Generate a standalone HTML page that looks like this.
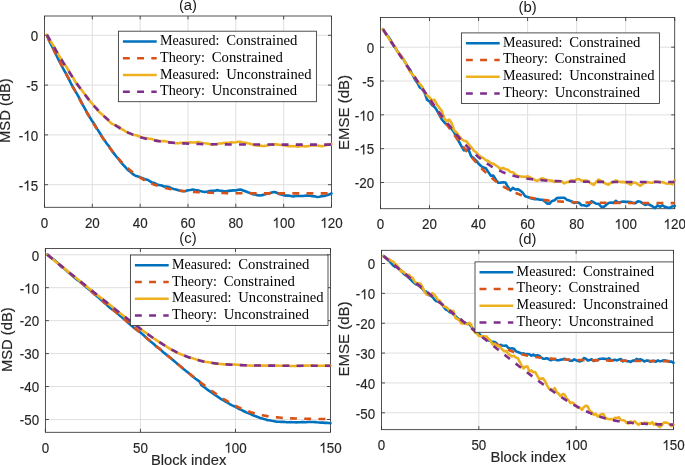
<!DOCTYPE html>
<html><head><meta charset="utf-8"><style>html,body{margin:0;padding:0;background:#fff;overflow:hidden}svg{display:block;will-change:transform}</style></head>
<body><svg width="685" height="465" viewBox="0 0 685 465">
<rect width="685" height="465" fill="#fff"/>
<g stroke="#DFDFDF" stroke-width="1"><line x1="92.33" y1="16.0" x2="92.33" y2="207.3"/><line x1="140.17" y1="16.0" x2="140.17" y2="207.3"/><line x1="188.00" y1="16.0" x2="188.00" y2="207.3"/><line x1="235.83" y1="16.0" x2="235.83" y2="207.3"/><line x1="283.67" y1="16.0" x2="283.67" y2="207.3"/><line x1="44.5" y1="35.30" x2="331.5" y2="35.30"/><line x1="44.5" y1="85.10" x2="331.5" y2="85.10"/><line x1="44.5" y1="134.90" x2="331.5" y2="134.90"/><line x1="44.5" y1="184.70" x2="331.5" y2="184.70"/></g>
<path d="M44.50,207.3v-3.5M44.50,16.0v3.5M92.33,207.3v-3.5M92.33,16.0v3.5M140.17,207.3v-3.5M140.17,16.0v3.5M188.00,207.3v-3.5M188.00,16.0v3.5M235.83,207.3v-3.5M235.83,16.0v3.5M283.67,207.3v-3.5M283.67,16.0v3.5M331.50,207.3v-3.5M331.50,16.0v3.5M44.5,35.30h3.5M331.5,35.30h-3.5M44.5,85.10h3.5M331.5,85.10h-3.5M44.5,134.90h3.5M331.5,134.90h-3.5M44.5,184.70h3.5M331.5,184.70h-3.5" stroke="#333" stroke-width="0.85" fill="none"/>
<rect x="44.5" y="16.0" width="287.00" height="191.30" fill="none" stroke="#333" stroke-width="0.85"/>
<clipPath id="cpa"><rect x="43.0" y="14.5" width="290.0" height="194.3"/></clipPath>
<g clip-path="url(#cpa)" fill="none" stroke-width="2.6" stroke-linejoin="round">
<path d="M46.89,35.26 L49.28,41.10 L51.67,45.78 L54.07,50.45 L56.46,55.57 L58.85,60.44 L61.24,65.00 L63.63,69.50 L66.03,73.54 L68.42,78.18 L70.81,83.11 L73.20,87.51 L75.59,91.67 L77.98,95.63 L80.38,100.11 L82.77,104.85 L85.16,109.14 L87.55,113.76 L89.94,117.52 L92.33,121.36 L94.72,124.84 L97.12,128.89 L99.51,132.45 L101.90,136.47 L104.29,139.90 L106.68,143.53 L109.08,146.44 L111.47,150.13 L113.86,153.38 L116.25,156.51 L118.64,159.23 L121.03,162.37 L123.43,165.05 L125.82,167.64 L128.21,170.30 L130.60,172.03 L132.99,174.19 L135.38,175.77 L137.78,176.38 L140.17,177.27 L142.56,178.32 L144.95,179.21 L147.34,179.73 L149.73,181.04 L152.12,182.55 L154.52,183.08 L156.91,184.42 L159.30,185.02 L161.69,185.47 L164.08,186.48 L166.47,186.61 L168.87,187.02 L171.26,188.13 L173.65,188.94 L176.04,189.44 L178.43,190.28 L180.82,190.84 L183.22,191.19 L185.61,191.03 L188.00,190.25 L190.39,190.07 L192.78,189.54 L195.18,190.09 L197.57,190.31 L199.96,190.92 L202.35,191.46 L204.74,191.91 L207.13,191.74 L209.52,191.00 L211.92,190.87 L214.31,190.92 L216.70,190.11 L219.09,190.58 L221.48,190.84 L223.88,191.32 L226.27,191.30 L228.66,190.84 L231.05,190.59 L233.44,190.36 L235.83,190.48 L238.23,189.82 L240.62,189.59 L243.01,190.45 L245.40,191.31 L247.79,192.26 L250.18,193.03 L252.57,194.10 L254.97,194.41 L257.36,195.16 L259.75,195.46 L262.14,195.12 L264.53,194.60 L266.93,193.71 L269.32,193.34 L271.71,192.44 L274.10,191.97 L276.49,192.59 L278.88,193.95 L281.27,194.54 L283.67,195.12 L286.06,195.61 L288.45,195.62 L290.84,195.97 L293.23,196.53 L295.62,196.01 L298.02,195.96 L300.41,196.00 L302.80,195.94 L305.19,195.67 L307.58,195.53 L309.98,195.82 L312.37,196.22 L314.76,196.33 L317.15,196.97 L319.54,196.79 L321.93,196.12 L324.32,195.95 L326.72,195.22 L329.11,194.49 L331.50,193.44" stroke="#0072BD" stroke-linecap="round"/>
<path d="M46.89,35.26 L49.28,41.08 L51.67,45.84 L54.07,50.57 L56.46,55.29 L58.85,59.99 L61.24,64.66 L63.63,69.30 L66.03,73.91 L68.42,78.49 L70.81,83.04 L73.20,87.54 L75.59,92.00 L77.98,96.41 L80.38,100.77 L82.77,105.07 L85.16,109.31 L87.55,113.48 L89.94,117.58 L92.33,121.59 L94.72,125.53 L97.12,129.36 L99.51,133.10 L101.90,136.74 L104.29,140.27 L106.68,143.68 L109.08,146.97 L111.47,150.14 L113.86,153.18 L116.25,156.08 L118.64,158.85 L121.03,161.48 L123.43,163.97 L125.82,166.33 L128.21,168.54 L130.60,170.62 L132.99,172.56 L135.38,174.37 L137.78,176.06 L140.17,177.62 L142.56,179.06 L144.95,180.39 L147.34,181.61 L149.73,182.73 L152.12,183.76 L154.52,184.70 L156.91,185.55 L159.30,186.33 L161.69,187.04 L164.08,187.68 L166.47,188.26 L168.87,188.78 L171.26,189.25 L173.65,189.68 L176.04,190.06 L178.43,190.41 L180.82,190.72 L183.22,191.00 L185.61,191.25 L188.00,191.48 L190.39,191.68 L192.78,191.86 L195.18,192.03 L197.57,192.17 L199.96,192.30 L202.35,192.42 L204.74,192.53 L207.13,192.62 L209.52,192.70 L211.92,192.78 L214.31,192.85 L216.70,192.91 L219.09,192.96 L221.48,193.01 L223.88,193.05 L226.27,193.09 L228.66,193.12 L231.05,193.15 L233.44,193.18 L235.83,193.20 L238.23,193.23 L240.62,193.25 L243.01,193.26 L245.40,193.28 L247.79,193.29 L250.18,193.30 L252.57,193.32 L254.97,193.33 L257.36,193.33 L259.75,193.34 L262.14,193.35 L264.53,193.36 L266.93,193.36 L269.32,193.37 L271.71,193.37 L274.10,193.37 L276.49,193.38 L278.88,193.38 L281.27,193.38 L283.67,193.39 L286.06,193.39 L288.45,193.39 L290.84,193.39 L293.23,193.39 L295.62,193.40 L298.02,193.40 L300.41,193.40 L302.80,193.40 L305.19,193.40 L307.58,193.40 L309.98,193.40 L312.37,193.40 L314.76,193.40 L317.15,193.40 L319.54,193.40 L321.93,193.40 L324.32,193.40 L326.72,193.40 L329.11,193.40 L331.50,193.41" stroke="#D95319" stroke-dasharray="6.9 7.3" stroke-linecap="butt"/>
<path d="M46.89,34.74 L49.28,38.84 L51.67,42.80 L54.07,46.84 L56.46,50.95 L58.85,55.52 L61.24,59.30 L63.63,63.33 L66.03,66.26 L68.42,70.25 L70.81,74.34 L73.20,77.98 L75.59,82.30 L77.98,85.73 L80.38,88.39 L82.77,91.55 L85.16,94.70 L87.55,97.45 L89.94,101.01 L92.33,103.78 L94.72,106.95 L97.12,109.69 L99.51,112.25 L101.90,114.21 L104.29,116.48 L106.68,118.73 L109.08,121.18 L111.47,123.53 L113.86,124.62 L116.25,125.85 L118.64,126.63 L121.03,128.58 L123.43,130.01 L125.82,131.53 L128.21,132.77 L130.60,133.82 L132.99,134.67 L135.38,135.12 L137.78,135.81 L140.17,136.70 L142.56,137.74 L144.95,138.08 L147.34,138.41 L149.73,138.72 L152.12,139.08 L154.52,140.11 L156.91,140.64 L159.30,141.03 L161.69,141.08 L164.08,141.09 L166.47,141.59 L168.87,142.21 L171.26,142.49 L173.65,142.98 L176.04,143.21 L178.43,143.28 L180.82,142.89 L183.22,142.90 L185.61,142.65 L188.00,142.88 L190.39,142.39 L192.78,142.53 L195.18,142.57 L197.57,142.08 L199.96,142.40 L202.35,142.95 L204.74,143.29 L207.13,143.45 L209.52,144.12 L211.92,144.81 L214.31,144.27 L216.70,144.01 L219.09,143.56 L221.48,143.57 L223.88,142.96 L226.27,142.72 L228.66,142.97 L231.05,142.26 L233.44,142.43 L235.83,142.27 L238.23,141.74 L240.62,141.77 L243.01,142.66 L245.40,142.81 L247.79,143.33 L250.18,143.76 L252.57,144.60 L254.97,145.30 L257.36,145.58 L259.75,145.57 L262.14,145.98 L264.53,145.89 L266.93,145.58 L269.32,144.99 L271.71,144.60 L274.10,144.17 L276.49,144.35 L278.88,144.71 L281.27,145.06 L283.67,145.28 L286.06,145.64 L288.45,146.16 L290.84,146.12 L293.23,146.24 L295.62,146.11 L298.02,146.78 L300.41,146.12 L302.80,146.06 L305.19,146.37 L307.58,146.16 L309.98,145.81 L312.37,145.31 L314.76,145.55 L317.15,145.53 L319.54,145.85 L321.93,146.23 L324.32,145.84 L326.72,145.02 L329.11,144.33 L331.50,144.09" stroke="#EDB120" stroke-linecap="round"/>
<path d="M46.89,34.74 L49.28,38.94 L51.67,43.10 L54.07,47.22 L56.46,51.29 L58.85,55.32 L61.24,59.28 L63.63,63.20 L66.03,67.04 L68.42,70.83 L70.81,74.54 L73.20,78.17 L75.59,81.72 L77.98,85.18 L80.38,88.55 L82.77,91.83 L85.16,95.01 L87.55,98.08 L89.94,101.04 L92.33,103.89 L94.72,106.62 L97.12,109.24 L99.51,111.73 L101.90,114.11 L104.29,116.36 L106.68,118.50 L109.08,120.51 L111.47,122.41 L113.86,124.19 L116.25,125.85 L118.64,127.41 L121.03,128.86 L123.43,130.20 L125.82,131.45 L128.21,132.60 L130.60,133.67 L132.99,134.65 L135.38,135.55 L137.78,136.38 L140.17,137.14 L142.56,137.83 L144.95,138.46 L147.34,139.04 L149.73,139.57 L152.12,140.05 L154.52,140.48 L156.91,140.88 L159.30,141.24 L161.69,141.56 L164.08,141.86 L166.47,142.13 L168.87,142.37 L171.26,142.59 L173.65,142.79 L176.04,142.96 L178.43,143.12 L180.82,143.27 L183.22,143.40 L185.61,143.52 L188.00,143.63 L190.39,143.72 L192.78,143.81 L195.18,143.89 L197.57,143.96 L199.96,144.02 L202.35,144.08 L204.74,144.13 L207.13,144.18 L209.52,144.22 L211.92,144.26 L214.31,144.29 L216.70,144.32 L219.09,144.35 L221.48,144.37 L223.88,144.40 L226.27,144.42 L228.66,144.44 L231.05,144.45 L233.44,144.47 L235.83,144.48 L238.23,144.49 L240.62,144.50 L243.01,144.51 L245.40,144.52 L247.79,144.53 L250.18,144.53 L252.57,144.54 L254.97,144.55 L257.36,144.55 L259.75,144.56 L262.14,144.56 L264.53,144.56 L266.93,144.57 L269.32,144.57 L271.71,144.57 L274.10,144.58 L276.49,144.58 L278.88,144.58 L281.27,144.58 L283.67,144.58 L286.06,144.58 L288.45,144.59 L290.84,144.59 L293.23,144.59 L295.62,144.59 L298.02,144.59 L300.41,144.59 L302.80,144.59 L305.19,144.59 L307.58,144.59 L309.98,144.59 L312.37,144.59 L314.76,144.59 L317.15,144.59 L319.54,144.59 L321.93,144.59 L324.32,144.59 L326.72,144.59 L329.11,144.60 L331.50,144.60" stroke="#7E2F8E" stroke-dasharray="6.9 7.3" stroke-linecap="butt"/>
</g>
<g font-family="Liberation Sans" font-size="14.0" fill="#262626" stroke="#262626" stroke-width="0.15"><text x="40.77" y="227.70" textLength="7.45" lengthAdjust="spacingAndGlyphs">0</text><text x="84.88" y="227.70" textLength="7.45" lengthAdjust="spacingAndGlyphs">2</text><text x="92.33" y="227.70" textLength="7.45" lengthAdjust="spacingAndGlyphs">0</text><text x="132.72" y="227.70" textLength="7.45" lengthAdjust="spacingAndGlyphs">4</text><text x="140.17" y="227.70" textLength="7.45" lengthAdjust="spacingAndGlyphs">0</text><text x="180.55" y="227.70" textLength="7.45" lengthAdjust="spacingAndGlyphs">6</text><text x="188.00" y="227.70" textLength="7.45" lengthAdjust="spacingAndGlyphs">0</text><text x="228.38" y="227.70" textLength="7.45" lengthAdjust="spacingAndGlyphs">8</text><text x="235.83" y="227.70" textLength="7.45" lengthAdjust="spacingAndGlyphs">0</text><polygon points="277.49,227.70 276.32,227.70 276.32,219.86 275.17,220.63 273.90,221.23 273.90,220.03 275.37,219.13 276.51,217.68 277.49,217.68"/><text x="279.94" y="227.70" textLength="7.45" lengthAdjust="spacingAndGlyphs">0</text><text x="287.39" y="227.70" textLength="7.45" lengthAdjust="spacingAndGlyphs">0</text><polygon points="325.32,227.70 324.16,227.70 324.16,219.86 323.00,220.63 321.73,221.23 321.73,220.03 323.21,219.13 324.34,217.68 325.32,217.68"/><text x="327.77" y="227.70" textLength="7.45" lengthAdjust="spacingAndGlyphs">2</text><text x="335.23" y="227.70" textLength="7.45" lengthAdjust="spacingAndGlyphs">0</text><text x="30.75" y="41.10" textLength="7.45" lengthAdjust="spacingAndGlyphs">0</text><text x="26.29" y="90.90" textLength="4.46" lengthAdjust="spacingAndGlyphs">-</text><text x="30.75" y="90.90" textLength="7.45" lengthAdjust="spacingAndGlyphs">5</text><text x="18.84" y="140.70" textLength="4.46" lengthAdjust="spacingAndGlyphs">-</text><polygon points="28.30,140.70 27.13,140.70 27.13,132.86 25.98,133.63 24.71,134.23 24.71,133.03 26.18,132.13 27.32,130.68 28.30,130.68"/><text x="30.75" y="140.70" textLength="7.45" lengthAdjust="spacingAndGlyphs">0</text><text x="18.84" y="190.50" textLength="4.46" lengthAdjust="spacingAndGlyphs">-</text><polygon points="28.30,190.50 27.13,190.50 27.13,182.66 25.98,183.43 24.71,184.03 24.71,182.83 26.18,181.93 27.32,180.48 28.30,180.48"/><text x="30.75" y="190.50" textLength="7.45" lengthAdjust="spacingAndGlyphs">5</text></g>
<text x="178.93" y="10.10" textLength="18.13" lengthAdjust="spacingAndGlyphs" font-family="Liberation Sans" font-size="14.0" fill="#1a1a1a">(a)</text>
<text transform="translate(10.45,110.60) rotate(-90)" x="-32.35" y="0" textLength="64.70" lengthAdjust="spacingAndGlyphs" font-family="Liberation Sans" font-size="15.0" fill="#262626" stroke="#262626" stroke-width="0.15">MSD (dB)</text>
<rect x="118.4" y="31.2" width="198.00" height="70.50" fill="#fff" stroke="#333" stroke-width="0.85"/>
<line x1="122.90" y1="41.50" x2="156.70" y2="41.50" stroke="#0072BD" stroke-width="2.6"/>
<text y="45.00" font-family="Liberation Serif" font-size="13.7" fill="#000"><tspan x="160.00" textLength="59.5" lengthAdjust="spacingAndGlyphs">Measured:</tspan></text>
<text y="45.00" font-family="Liberation Serif" font-size="13.7" fill="#000"><tspan x="226.30" textLength="71.2" lengthAdjust="spacingAndGlyphs">Constrained</tspan></text>
<line x1="122.90" y1="58.25" x2="156.70" y2="58.25" stroke="#D95319" stroke-width="2.6" stroke-dasharray="6.9 7.3"/>
<text y="61.75" font-family="Liberation Serif" font-size="13.7" fill="#000"><tspan x="160.00" textLength="45.0" lengthAdjust="spacingAndGlyphs">Theory:</tspan></text>
<text y="61.75" font-family="Liberation Serif" font-size="13.7" fill="#000"><tspan x="211.80" textLength="71.2" lengthAdjust="spacingAndGlyphs">Constrained</tspan></text>
<line x1="122.90" y1="75.00" x2="156.70" y2="75.00" stroke="#EDB120" stroke-width="2.6"/>
<text y="78.50" font-family="Liberation Serif" font-size="13.7" fill="#000"><tspan x="160.00" textLength="59.5" lengthAdjust="spacingAndGlyphs">Measured:</tspan></text>
<text y="78.50" font-family="Liberation Serif" font-size="13.7" fill="#000"><tspan x="226.30" textLength="85.2" lengthAdjust="spacingAndGlyphs">Unconstrained</tspan></text>
<line x1="122.90" y1="91.75" x2="156.70" y2="91.75" stroke="#7E2F8E" stroke-width="2.6" stroke-dasharray="6.9 7.3"/>
<text y="95.25" font-family="Liberation Serif" font-size="13.7" fill="#000"><tspan x="160.00" textLength="45.0" lengthAdjust="spacingAndGlyphs">Theory:</tspan></text>
<text y="95.25" font-family="Liberation Serif" font-size="13.7" fill="#000"><tspan x="211.80" textLength="85.2" lengthAdjust="spacingAndGlyphs">Unconstrained</tspan></text>
<g stroke="#DFDFDF" stroke-width="1"><line x1="429.53" y1="17.5" x2="429.53" y2="208.7"/><line x1="478.57" y1="17.5" x2="478.57" y2="208.7"/><line x1="527.60" y1="17.5" x2="527.60" y2="208.7"/><line x1="576.63" y1="17.5" x2="576.63" y2="208.7"/><line x1="625.67" y1="17.5" x2="625.67" y2="208.7"/><line x1="380.5" y1="47.20" x2="674.7" y2="47.20"/><line x1="380.5" y1="81.03" x2="674.7" y2="81.03"/><line x1="380.5" y1="114.85" x2="674.7" y2="114.85"/><line x1="380.5" y1="148.68" x2="674.7" y2="148.68"/><line x1="380.5" y1="182.50" x2="674.7" y2="182.50"/></g>
<path d="M380.50,208.7v-3.5M380.50,17.5v3.5M429.53,208.7v-3.5M429.53,17.5v3.5M478.57,208.7v-3.5M478.57,17.5v3.5M527.60,208.7v-3.5M527.60,17.5v3.5M576.63,208.7v-3.5M576.63,17.5v3.5M625.67,208.7v-3.5M625.67,17.5v3.5M674.70,208.7v-3.5M674.70,17.5v3.5M380.5,47.20h3.5M674.7,47.20h-3.5M380.5,81.03h3.5M674.7,81.03h-3.5M380.5,114.85h3.5M674.7,114.85h-3.5M380.5,148.68h3.5M674.7,148.68h-3.5M380.5,182.50h3.5M674.7,182.50h-3.5" stroke="#333" stroke-width="0.85" fill="none"/>
<rect x="380.5" y="17.5" width="294.20" height="191.20" fill="none" stroke="#333" stroke-width="0.85"/>
<clipPath id="cpb"><rect x="379.0" y="16.0" width="297.20000000000005" height="194.2"/></clipPath>
<g clip-path="url(#cpb)" fill="none" stroke-width="2.6" stroke-linejoin="round">
<path d="M382.95,29.11 L385.40,32.63 L387.86,36.27 L390.31,39.47 L392.76,44.32 L395.21,47.79 L397.66,51.68 L400.11,54.73 L402.56,58.03 L405.02,61.87 L407.47,66.30 L409.92,69.67 L412.37,74.51 L414.82,79.25 L417.27,82.73 L419.73,87.38 L422.18,89.01 L424.63,92.83 L427.08,99.80 L429.53,101.42 L431.99,105.02 L434.44,106.84 L436.89,110.30 L439.34,114.90 L441.79,119.47 L444.24,122.22 L446.69,124.70 L449.15,125.92 L451.60,129.00 L454.05,132.30 L456.50,137.65 L458.95,141.55 L461.41,146.22 L463.86,150.43 L466.31,149.71 L468.76,150.18 L471.21,156.42 L473.66,158.18 L476.12,160.60 L478.57,163.60 L481.02,166.01 L483.47,167.62 L485.92,168.35 L488.37,172.12 L490.83,175.76 L493.28,175.44 L495.73,179.52 L498.18,182.69 L500.63,182.60 L503.08,182.19 L505.54,182.51 L507.99,187.02 L510.44,190.41 L512.89,187.96 L515.34,189.50 L517.79,189.20 L520.25,190.55 L522.70,192.63 L525.15,196.31 L527.60,196.93 L530.05,198.09 L532.50,198.62 L534.96,199.25 L537.41,198.92 L539.86,199.74 L542.31,199.71 L544.76,201.36 L547.21,203.59 L549.66,203.67 L552.12,200.98 L554.57,200.32 L557.02,198.02 L559.47,197.83 L561.92,197.82 L564.38,197.81 L566.83,199.68 L569.28,200.56 L571.73,201.41 L574.18,202.90 L576.63,202.52 L579.09,202.74 L581.54,205.31 L583.99,205.30 L586.44,206.14 L588.89,204.97 L591.34,201.21 L593.80,202.28 L596.25,203.75 L598.70,203.89 L601.15,206.63 L603.60,207.00 L606.05,204.95 L608.51,202.96 L610.96,202.58 L613.41,202.91 L615.86,200.79 L618.31,202.69 L620.76,201.94 L623.22,201.45 L625.67,201.89 L628.12,201.82 L630.57,202.04 L633.02,202.94 L635.47,203.08 L637.93,201.33 L640.38,201.84 L642.83,203.31 L645.28,204.93 L647.73,203.95 L650.18,205.05 L652.63,206.48 L655.09,208.10 L657.54,205.29 L659.99,206.75 L662.44,205.34 L664.89,206.76 L667.35,207.60 L669.80,207.94 L672.25,206.46 L674.70,205.73" stroke="#0072BD" stroke-linecap="round"/>
<path d="M382.95,29.11 L385.40,32.85 L387.86,36.59 L390.31,40.32 L392.76,44.06 L395.21,47.79 L397.66,51.52 L400.11,55.25 L402.56,58.97 L405.02,62.69 L407.47,66.40 L409.92,70.11 L412.37,73.81 L414.82,77.51 L417.27,81.20 L419.73,84.88 L422.18,88.55 L424.63,92.21 L427.08,95.86 L429.53,99.49 L431.99,103.11 L434.44,106.72 L436.89,110.30 L439.34,113.87 L441.79,117.41 L444.24,120.92 L446.69,124.40 L449.15,127.86 L451.60,131.27 L454.05,134.65 L456.50,137.98 L458.95,141.26 L461.41,144.49 L463.86,147.66 L466.31,150.77 L468.76,153.81 L471.21,156.77 L473.66,159.66 L476.12,162.46 L478.57,165.16 L481.02,167.77 L483.47,170.28 L485.92,172.69 L488.37,174.99 L490.83,177.17 L493.28,179.24 L495.73,181.19 L498.18,183.03 L500.63,184.75 L503.08,186.36 L505.54,187.86 L507.99,189.24 L510.44,190.52 L512.89,191.70 L515.34,192.78 L517.79,193.77 L520.25,194.67 L522.70,195.50 L525.15,196.24 L527.60,196.92 L530.05,197.53 L532.50,198.08 L534.96,198.58 L537.41,199.03 L539.86,199.43 L542.31,199.79 L544.76,200.12 L547.21,200.41 L549.66,200.67 L552.12,200.91 L554.57,201.12 L557.02,201.31 L559.47,201.48 L561.92,201.63 L564.38,201.77 L566.83,201.89 L569.28,202.00 L571.73,202.10 L574.18,202.19 L576.63,202.27 L579.09,202.34 L581.54,202.41 L583.99,202.47 L586.44,202.52 L588.89,202.57 L591.34,202.61 L593.80,202.65 L596.25,202.69 L598.70,202.72 L601.15,202.75 L603.60,202.78 L606.05,202.80 L608.51,202.83 L610.96,202.85 L613.41,202.87 L615.86,202.89 L618.31,202.90 L620.76,202.92 L623.22,202.93 L625.67,202.95 L628.12,202.96 L630.57,202.97 L633.02,202.98 L635.47,202.99 L637.93,203.00 L640.38,203.01 L642.83,203.02 L645.28,203.02 L647.73,203.03 L650.18,203.04 L652.63,203.04 L655.09,203.05 L657.54,203.06 L659.99,203.06 L662.44,203.07 L664.89,203.07 L667.35,203.08 L669.80,203.08 L672.25,203.08 L674.70,203.09" stroke="#D95319" stroke-dasharray="6.9 7.3" stroke-linecap="butt"/>
<path d="M382.95,29.41 L385.40,33.32 L387.86,36.93 L390.31,40.89 L392.76,44.08 L395.21,47.27 L397.66,51.98 L400.11,54.33 L402.56,57.72 L405.02,61.95 L407.47,66.53 L409.92,71.80 L412.37,74.34 L414.82,77.02 L417.27,80.93 L419.73,83.83 L422.18,86.69 L424.63,92.25 L427.08,95.48 L429.53,97.44 L431.99,100.30 L434.44,99.89 L436.89,104.48 L439.34,107.74 L441.79,110.91 L444.24,118.48 L446.69,121.00 L449.15,119.53 L451.60,122.96 L454.05,130.23 L456.50,132.48 L458.95,136.21 L461.41,138.93 L463.86,140.76 L466.31,141.14 L468.76,144.45 L471.21,147.08 L473.66,150.50 L476.12,152.22 L478.57,155.11 L481.02,156.97 L483.47,158.15 L485.92,160.17 L488.37,161.06 L490.83,163.22 L493.28,163.65 L495.73,165.28 L498.18,167.03 L500.63,169.22 L503.08,167.91 L505.54,169.22 L507.99,169.85 L510.44,171.95 L512.89,172.27 L515.34,174.24 L517.79,176.01 L520.25,176.35 L522.70,176.59 L525.15,177.08 L527.60,176.27 L530.05,177.34 L532.50,178.61 L534.96,180.07 L537.41,181.05 L539.86,179.25 L542.31,178.23 L544.76,179.24 L547.21,180.06 L549.66,180.45 L552.12,180.65 L554.57,182.01 L557.02,181.36 L559.47,181.10 L561.92,181.61 L564.38,183.38 L566.83,182.05 L569.28,181.87 L571.73,180.19 L574.18,180.75 L576.63,179.31 L579.09,179.15 L581.54,180.73 L583.99,180.45 L586.44,180.47 L588.89,182.00 L591.34,183.63 L593.80,184.88 L596.25,181.67 L598.70,179.53 L601.15,181.10 L603.60,182.42 L606.05,183.87 L608.51,184.73 L610.96,182.76 L613.41,182.18 L615.86,180.31 L618.31,181.44 L620.76,182.11 L623.22,181.88 L625.67,182.39 L628.12,183.16 L630.57,184.74 L633.02,182.36 L635.47,182.67 L637.93,184.32 L640.38,185.78 L642.83,183.71 L645.28,182.66 L647.73,182.11 L650.18,182.78 L652.63,182.75 L655.09,181.47 L657.54,181.60 L659.99,182.58 L662.44,181.97 L664.89,182.95 L667.35,183.86 L669.80,183.24 L672.25,184.30 L674.70,180.30" stroke="#EDB120" stroke-linecap="round"/>
<path d="M382.95,29.41 L385.40,33.14 L387.86,36.87 L390.31,40.59 L392.76,44.31 L395.21,48.02 L397.66,51.72 L400.11,55.42 L402.56,59.10 L405.02,62.78 L407.47,66.45 L409.92,70.10 L412.37,73.74 L414.82,77.37 L417.27,80.98 L419.73,84.57 L422.18,88.14 L424.63,91.69 L427.08,95.22 L429.53,98.72 L431.99,102.19 L434.44,105.63 L436.89,109.03 L439.34,112.40 L441.79,115.72 L444.24,118.99 L446.69,122.21 L449.15,125.37 L451.60,128.48 L454.05,131.51 L456.50,134.48 L458.95,137.37 L461.41,140.18 L463.86,142.90 L466.31,145.53 L468.76,148.06 L471.21,150.49 L473.66,152.82 L476.12,155.04 L478.57,157.15 L481.02,159.15 L483.47,161.04 L485.92,162.81 L488.37,164.47 L490.83,166.02 L493.28,167.46 L495.73,168.80 L498.18,170.04 L500.63,171.17 L503.08,172.22 L505.54,173.17 L507.99,174.05 L510.44,174.84 L512.89,175.57 L515.34,176.22 L517.79,176.81 L520.25,177.35 L522.70,177.83 L525.15,178.27 L527.60,178.66 L530.05,179.01 L532.50,179.33 L534.96,179.61 L537.41,179.87 L539.86,180.09 L542.31,180.30 L544.76,180.48 L547.21,180.64 L549.66,180.79 L552.12,180.92 L554.57,181.04 L557.02,181.14 L559.47,181.23 L561.92,181.32 L564.38,181.39 L566.83,181.46 L569.28,181.52 L571.73,181.57 L574.18,181.62 L576.63,181.66 L579.09,181.70 L581.54,181.73 L583.99,181.76 L586.44,181.79 L588.89,181.82 L591.34,181.84 L593.80,181.86 L596.25,181.88 L598.70,181.89 L601.15,181.91 L603.60,181.92 L606.05,181.93 L608.51,181.94 L610.96,181.95 L613.41,181.96 L615.86,181.96 L618.31,181.97 L620.76,181.98 L623.22,181.98 L625.67,181.99 L628.12,181.99 L630.57,182.00 L633.02,182.00 L635.47,182.00 L637.93,182.01 L640.38,182.01 L642.83,182.01 L645.28,182.01 L647.73,182.02 L650.18,182.02 L652.63,182.02 L655.09,182.02 L657.54,182.02 L659.99,182.02 L662.44,182.02 L664.89,182.02 L667.35,182.03 L669.80,182.03 L672.25,182.03 L674.70,182.03" stroke="#7E2F8E" stroke-dasharray="6.9 7.3" stroke-linecap="butt"/>
</g>
<g font-family="Liberation Sans" font-size="14.0" fill="#262626" stroke="#262626" stroke-width="0.15"><text x="376.77" y="229.10" textLength="7.45" lengthAdjust="spacingAndGlyphs">0</text><text x="422.08" y="229.10" textLength="7.45" lengthAdjust="spacingAndGlyphs">2</text><text x="429.53" y="229.10" textLength="7.45" lengthAdjust="spacingAndGlyphs">0</text><text x="471.12" y="229.10" textLength="7.45" lengthAdjust="spacingAndGlyphs">4</text><text x="478.57" y="229.10" textLength="7.45" lengthAdjust="spacingAndGlyphs">0</text><text x="520.15" y="229.10" textLength="7.45" lengthAdjust="spacingAndGlyphs">6</text><text x="527.60" y="229.10" textLength="7.45" lengthAdjust="spacingAndGlyphs">0</text><text x="569.18" y="229.10" textLength="7.45" lengthAdjust="spacingAndGlyphs">8</text><text x="576.63" y="229.10" textLength="7.45" lengthAdjust="spacingAndGlyphs">0</text><polygon points="619.49,229.10 618.32,229.10 618.32,221.26 617.17,222.03 615.90,222.63 615.90,221.43 617.37,220.53 618.51,219.08 619.49,219.08"/><text x="621.94" y="229.10" textLength="7.45" lengthAdjust="spacingAndGlyphs">0</text><text x="629.39" y="229.10" textLength="7.45" lengthAdjust="spacingAndGlyphs">0</text><polygon points="668.52,229.10 667.36,229.10 667.36,221.26 666.20,222.03 664.93,222.63 664.93,221.43 666.41,220.53 667.54,219.08 668.52,219.08"/><text x="670.97" y="229.10" textLength="7.45" lengthAdjust="spacingAndGlyphs">2</text><text x="678.43" y="229.10" textLength="7.45" lengthAdjust="spacingAndGlyphs">0</text><text x="366.75" y="53.00" textLength="7.45" lengthAdjust="spacingAndGlyphs">0</text><text x="362.29" y="86.83" textLength="4.46" lengthAdjust="spacingAndGlyphs">-</text><text x="366.75" y="86.83" textLength="7.45" lengthAdjust="spacingAndGlyphs">5</text><text x="354.84" y="120.65" textLength="4.46" lengthAdjust="spacingAndGlyphs">-</text><polygon points="364.30,120.65 363.13,120.65 363.13,112.81 361.98,113.58 360.71,114.18 360.71,112.98 362.18,112.08 363.32,110.63 364.30,110.63"/><text x="366.75" y="120.65" textLength="7.45" lengthAdjust="spacingAndGlyphs">0</text><text x="354.84" y="154.48" textLength="4.46" lengthAdjust="spacingAndGlyphs">-</text><polygon points="364.30,154.48 363.13,154.48 363.13,146.64 361.98,147.41 360.71,148.01 360.71,146.80 362.18,145.91 363.32,144.45 364.30,144.45"/><text x="366.75" y="154.48" textLength="7.45" lengthAdjust="spacingAndGlyphs">5</text><text x="354.84" y="188.30" textLength="4.46" lengthAdjust="spacingAndGlyphs">-</text><text x="359.30" y="188.30" textLength="7.45" lengthAdjust="spacingAndGlyphs">2</text><text x="366.75" y="188.30" textLength="7.45" lengthAdjust="spacingAndGlyphs">0</text></g>
<text x="518.53" y="11.60" textLength="18.13" lengthAdjust="spacingAndGlyphs" font-family="Liberation Sans" font-size="14.0" fill="#1a1a1a">(b)</text>
<text transform="translate(348.70,112.50) rotate(-90)" x="-37.50" y="0" textLength="75.00" lengthAdjust="spacingAndGlyphs" font-family="Liberation Sans" font-size="15.0" fill="#262626" stroke="#262626" stroke-width="0.15">EMSE (dB)</text>
<rect x="461.4" y="32.9" width="198.00" height="70.60" fill="#fff" stroke="#333" stroke-width="0.85"/>
<line x1="465.90" y1="43.20" x2="499.70" y2="43.20" stroke="#0072BD" stroke-width="2.6"/>
<text y="46.70" font-family="Liberation Serif" font-size="13.7" fill="#000"><tspan x="503.00" textLength="59.5" lengthAdjust="spacingAndGlyphs">Measured:</tspan></text>
<text y="46.70" font-family="Liberation Serif" font-size="13.7" fill="#000"><tspan x="569.30" textLength="71.2" lengthAdjust="spacingAndGlyphs">Constrained</tspan></text>
<line x1="465.90" y1="59.95" x2="499.70" y2="59.95" stroke="#D95319" stroke-width="2.6" stroke-dasharray="6.9 7.3"/>
<text y="63.45" font-family="Liberation Serif" font-size="13.7" fill="#000"><tspan x="503.00" textLength="45.0" lengthAdjust="spacingAndGlyphs">Theory:</tspan></text>
<text y="63.45" font-family="Liberation Serif" font-size="13.7" fill="#000"><tspan x="554.80" textLength="71.2" lengthAdjust="spacingAndGlyphs">Constrained</tspan></text>
<line x1="465.90" y1="76.70" x2="499.70" y2="76.70" stroke="#EDB120" stroke-width="2.6"/>
<text y="80.20" font-family="Liberation Serif" font-size="13.7" fill="#000"><tspan x="503.00" textLength="59.5" lengthAdjust="spacingAndGlyphs">Measured:</tspan></text>
<text y="80.20" font-family="Liberation Serif" font-size="13.7" fill="#000"><tspan x="569.30" textLength="85.2" lengthAdjust="spacingAndGlyphs">Unconstrained</tspan></text>
<line x1="465.90" y1="93.45" x2="499.70" y2="93.45" stroke="#7E2F8E" stroke-width="2.6" stroke-dasharray="6.9 7.3"/>
<text y="96.95" font-family="Liberation Serif" font-size="13.7" fill="#000"><tspan x="503.00" textLength="45.0" lengthAdjust="spacingAndGlyphs">Theory:</tspan></text>
<text y="96.95" font-family="Liberation Serif" font-size="13.7" fill="#000"><tspan x="554.80" textLength="85.2" lengthAdjust="spacingAndGlyphs">Unconstrained</tspan></text>
<g stroke="#DFDFDF" stroke-width="1"><line x1="140.43" y1="248.5" x2="140.43" y2="432.3"/><line x1="235.47" y1="248.5" x2="235.47" y2="432.3"/><line x1="45.4" y1="254.75" x2="330.5" y2="254.75"/><line x1="45.4" y1="287.70" x2="330.5" y2="287.70"/><line x1="45.4" y1="320.65" x2="330.5" y2="320.65"/><line x1="45.4" y1="353.60" x2="330.5" y2="353.60"/><line x1="45.4" y1="386.55" x2="330.5" y2="386.55"/><line x1="45.4" y1="419.50" x2="330.5" y2="419.50"/></g>
<path d="M45.40,432.3v-3.5M45.40,248.5v3.5M140.43,432.3v-3.5M140.43,248.5v3.5M235.47,432.3v-3.5M235.47,248.5v3.5M330.50,432.3v-3.5M330.50,248.5v3.5M45.4,254.75h3.5M330.5,254.75h-3.5M45.4,287.70h3.5M330.5,287.70h-3.5M45.4,320.65h3.5M330.5,320.65h-3.5M45.4,353.60h3.5M330.5,353.60h-3.5M45.4,386.55h3.5M330.5,386.55h-3.5M45.4,419.50h3.5M330.5,419.50h-3.5" stroke="#333" stroke-width="0.85" fill="none"/>
<rect x="45.4" y="248.5" width="285.10" height="183.80" fill="none" stroke="#333" stroke-width="0.85"/>
<clipPath id="cpc"><rect x="43.9" y="247.0" width="288.1" height="186.8"/></clipPath>
<g clip-path="url(#cpc)" fill="none" stroke-width="2.6" stroke-linejoin="round">
<path d="M47.30,254.46 L49.20,256.04 L51.10,257.66 L53.00,258.99 L54.90,260.57 L56.80,262.30 L58.70,264.01 L60.61,265.75 L62.51,267.42 L64.41,268.81 L66.31,270.42 L68.21,272.21 L70.11,273.75 L72.01,275.26 L73.91,277.00 L75.81,278.65 L77.71,280.17 L79.61,281.34 L81.51,282.82 L83.41,284.59 L85.31,286.35 L87.21,288.03 L89.12,289.57 L91.02,291.10 L92.92,292.87 L94.82,294.39 L96.72,296.16 L98.62,297.53 L100.52,299.27 L102.42,301.13 L104.32,302.83 L106.22,304.34 L108.12,306.19 L110.02,307.82 L111.92,309.15 L113.82,310.51 L115.72,311.98 L117.63,313.43 L119.53,315.39 L121.43,316.70 L123.33,318.42 L125.23,320.05 L127.13,321.69 L129.03,323.46 L130.93,325.14 L132.83,326.70 L134.73,328.43 L136.63,329.65 L138.53,331.19 L140.43,332.48 L142.33,334.12 L144.23,335.81 L146.14,337.42 L148.04,339.19 L149.94,340.98 L151.84,342.47 L153.74,343.98 L155.64,345.87 L157.54,347.41 L159.44,348.56 L161.34,350.35 L163.24,352.20 L165.14,353.63 L167.04,355.15 L168.94,356.63 L170.84,358.16 L172.74,359.84 L174.65,361.44 L176.55,363.13 L178.45,364.65 L180.35,366.36 L182.25,367.94 L184.15,369.55 L186.05,370.93 L187.95,372.47 L189.85,374.11 L191.75,375.67 L193.65,377.29 L195.55,378.76 L197.45,380.09 L199.35,381.42 L201.25,384.93 L203.16,386.45 L205.06,387.71 L206.96,389.33 L208.86,390.60 L210.76,391.89 L212.66,393.26 L214.56,394.57 L216.46,395.95 L218.36,397.14 L220.26,398.53 L222.16,399.54 L224.06,400.56 L225.96,401.82 L227.86,402.80 L229.76,404.02 L231.67,405.13 L233.57,406.07 L235.47,406.82 L237.37,407.89 L239.27,409.10 L241.17,409.91 L243.07,410.78 L244.97,411.73 L246.87,412.66 L248.77,413.39 L250.67,414.16 L252.57,415.02 L254.47,415.84 L256.37,416.49 L258.27,417.17 L260.18,417.95 L262.08,418.51 L263.98,419.11 L265.88,419.57 L267.78,420.19 L269.68,420.29 L271.58,420.72 L273.48,421.05 L275.38,421.42 L277.28,421.78 L279.18,421.77 L281.08,421.85 L282.98,421.86 L284.88,422.00 L286.78,422.20 L288.69,422.20 L290.59,422.15 L292.49,422.24 L294.39,422.30 L296.29,422.34 L298.19,422.23 L300.09,422.24 L301.99,422.07 L303.89,422.10 L305.79,422.31 L307.69,421.93 L309.59,422.05 L311.49,422.05 L313.39,422.01 L315.29,422.11 L317.20,422.32 L319.10,422.46 L321.00,422.58 L322.90,422.55 L324.80,422.84 L326.70,422.90 L328.60,423.06 L330.50,423.22" stroke="#0072BD" stroke-linecap="round"/>
<path d="M47.30,254.46 L49.20,256.06 L51.10,257.66 L53.00,259.27 L54.90,260.87 L56.80,262.47 L58.70,264.07 L60.61,265.67 L62.51,267.27 L64.41,268.87 L66.31,270.47 L68.21,272.07 L70.11,273.67 L72.01,275.27 L73.91,276.87 L75.81,278.47 L77.71,280.07 L79.61,281.68 L81.51,283.28 L83.41,284.88 L85.31,286.48 L87.21,288.08 L89.12,289.68 L91.02,291.28 L92.92,292.88 L94.82,294.48 L96.72,296.08 L98.62,297.68 L100.52,299.28 L102.42,300.88 L104.32,302.48 L106.22,304.08 L108.12,305.68 L110.02,307.28 L111.92,308.88 L113.82,310.48 L115.72,312.08 L117.63,313.68 L119.53,315.28 L121.43,316.88 L123.33,318.48 L125.23,320.08 L127.13,321.68 L129.03,323.28 L130.93,324.88 L132.83,326.47 L134.73,328.07 L136.63,329.67 L138.53,331.27 L140.43,332.87 L142.33,334.46 L144.23,336.06 L146.14,337.65 L148.04,339.25 L149.94,340.84 L151.84,342.44 L153.74,344.03 L155.64,345.62 L157.54,347.21 L159.44,348.80 L161.34,350.39 L163.24,351.98 L165.14,353.56 L167.04,355.15 L168.94,356.73 L170.84,358.31 L172.74,359.88 L174.65,361.46 L176.55,363.03 L178.45,364.59 L180.35,366.16 L182.25,367.72 L184.15,369.27 L186.05,370.82 L187.95,372.36 L189.85,373.90 L191.75,375.43 L193.65,376.95 L195.55,378.46 L197.45,379.96 L199.35,381.46 L201.25,382.94 L203.16,384.40 L205.06,385.85 L206.96,387.29 L208.86,388.71 L210.76,390.11 L212.66,391.49 L214.56,392.85 L216.46,394.18 L218.36,395.49 L220.26,396.77 L222.16,398.02 L224.06,399.24 L225.96,400.43 L227.86,401.58 L229.76,402.69 L231.67,403.76 L233.57,404.80 L235.47,405.79 L237.37,406.74 L239.27,407.65 L241.17,408.51 L243.07,409.33 L244.97,410.10 L246.87,410.83 L248.77,411.51 L250.67,412.15 L252.57,412.75 L254.47,413.31 L256.37,413.83 L258.27,414.30 L260.18,414.75 L262.08,415.15 L263.98,415.53 L265.88,415.87 L267.78,416.18 L269.68,416.47 L271.58,416.73 L273.48,416.97 L275.38,417.19 L277.28,417.38 L279.18,417.56 L281.08,417.72 L282.98,417.86 L284.88,418.00 L286.78,418.11 L288.69,418.22 L290.59,418.32 L292.49,418.40 L294.39,418.48 L296.29,418.55 L298.19,418.61 L300.09,418.67 L301.99,418.72 L303.89,418.76 L305.79,418.81 L307.69,418.84 L309.59,418.87 L311.49,418.90 L313.39,418.93 L315.29,418.95 L317.20,418.97 L319.10,418.99 L321.00,419.01 L322.90,419.03 L324.80,419.04 L326.70,419.05 L328.60,419.06 L330.50,419.07" stroke="#D95319" stroke-dasharray="6.9 7.3" stroke-linecap="butt"/>
<path d="M47.30,254.76 L49.20,256.28 L51.10,257.79 L53.00,259.34 L54.90,261.10 L56.80,262.74 L58.70,264.05 L60.61,265.48 L62.51,267.09 L64.41,268.63 L66.31,270.02 L68.21,271.65 L70.11,273.34 L72.01,274.78 L73.91,276.31 L75.81,277.85 L77.71,279.33 L79.61,280.76 L81.51,282.38 L83.41,283.94 L85.31,285.57 L87.21,286.88 L89.12,288.69 L91.02,289.86 L92.92,291.54 L94.82,293.15 L96.72,294.70 L98.62,296.12 L100.52,297.48 L102.42,299.09 L104.32,300.48 L106.22,301.75 L108.12,303.53 L110.02,304.91 L111.92,306.61 L113.82,308.05 L115.72,309.79 L117.63,311.24 L119.53,312.75 L121.43,314.29 L123.33,315.81 L125.23,317.36 L127.13,318.58 L129.03,319.99 L130.93,321.65 L132.83,323.15 L134.73,324.68 L136.63,326.03 L138.53,327.53 L140.43,328.88 L142.33,330.27 L144.23,331.82 L146.14,332.97 L148.04,334.24 L149.94,335.71 L151.84,337.01 L153.74,338.43 L155.64,339.56 L157.54,340.83 L159.44,342.08 L161.34,343.06 L163.24,344.39 L165.14,345.63 L167.04,346.87 L168.94,348.07 L170.84,349.42 L172.74,350.55 L174.65,351.45 L176.55,352.36 L178.45,353.32 L180.35,354.02 L182.25,354.90 L184.15,355.60 L186.05,356.28 L187.95,356.96 L189.85,357.47 L191.75,358.06 L193.65,358.60 L195.55,359.29 L197.45,359.70 L199.35,360.25 L201.25,360.71 L203.16,361.30 L205.06,361.72 L206.96,361.93 L208.86,362.29 L210.76,362.60 L212.66,363.07 L214.56,363.46 L216.46,363.59 L218.36,363.71 L220.26,364.07 L222.16,364.01 L224.06,364.38 L225.96,364.38 L227.86,364.26 L229.76,364.59 L231.67,364.52 L233.57,364.44 L235.47,364.63 L237.37,364.74 L239.27,364.91 L241.17,364.93 L243.07,365.09 L244.97,365.28 L246.87,365.33 L248.77,365.47 L250.67,365.52 L252.57,365.80 L254.47,365.54 L256.37,365.50 L258.27,365.29 L260.18,365.38 L262.08,365.67 L263.98,365.55 L265.88,365.64 L267.78,365.63 L269.68,365.61 L271.58,365.63 L273.48,365.53 L275.38,365.45 L277.28,365.58 L279.18,365.74 L281.08,365.78 L282.98,365.68 L284.88,365.65 L286.78,365.61 L288.69,365.78 L290.59,366.03 L292.49,366.03 L294.39,366.05 L296.29,366.04 L298.19,365.94 L300.09,365.84 L301.99,365.68 L303.89,365.60 L305.79,365.58 L307.69,365.67 L309.59,365.53 L311.49,365.53 L313.39,365.54 L315.29,365.79 L317.20,365.69 L319.10,365.79 L321.00,365.74 L322.90,365.75 L324.80,365.55 L326.70,365.63 L328.60,365.87 L330.50,365.62" stroke="#EDB120" stroke-linecap="round"/>
<path d="M47.30,254.76 L49.20,256.29 L51.10,257.82 L53.00,259.35 L54.90,260.89 L56.80,262.42 L58.70,263.95 L60.61,265.48 L62.51,267.02 L64.41,268.55 L66.31,270.08 L68.21,271.61 L70.11,273.14 L72.01,274.67 L73.91,276.21 L75.81,277.74 L77.71,279.27 L79.61,280.80 L81.51,282.33 L83.41,283.85 L85.31,285.38 L87.21,286.91 L89.12,288.44 L91.02,289.96 L92.92,291.49 L94.82,293.01 L96.72,294.54 L98.62,296.06 L100.52,297.58 L102.42,299.10 L104.32,300.62 L106.22,302.14 L108.12,303.65 L110.02,305.16 L111.92,306.67 L113.82,308.18 L115.72,309.69 L117.63,311.19 L119.53,312.69 L121.43,314.18 L123.33,315.67 L125.23,317.15 L127.13,318.63 L129.03,320.11 L130.93,321.57 L132.83,323.03 L134.73,324.49 L136.63,325.93 L138.53,327.36 L140.43,328.79 L142.33,330.20 L144.23,331.60 L146.14,332.98 L148.04,334.35 L149.94,335.71 L151.84,337.05 L153.74,338.36 L155.64,339.66 L157.54,340.94 L159.44,342.19 L161.34,343.41 L163.24,344.61 L165.14,345.78 L167.04,346.92 L168.94,348.02 L170.84,349.10 L172.74,350.13 L174.65,351.13 L176.55,352.10 L178.45,353.02 L180.35,353.90 L182.25,354.75 L184.15,355.55 L186.05,356.31 L187.95,357.03 L189.85,357.71 L191.75,358.35 L193.65,358.95 L195.55,359.51 L197.45,360.04 L199.35,360.52 L201.25,360.98 L203.16,361.40 L205.06,361.78 L206.96,362.14 L208.86,362.47 L210.76,362.77 L212.66,363.05 L214.56,363.30 L216.46,363.53 L218.36,363.74 L220.26,363.93 L222.16,364.11 L224.06,364.27 L225.96,364.41 L227.86,364.54 L229.76,364.66 L231.67,364.77 L233.57,364.87 L235.47,364.96 L237.37,365.03 L239.27,365.11 L241.17,365.17 L243.07,365.23 L244.97,365.28 L246.87,365.33 L248.77,365.37 L250.67,365.41 L252.57,365.45 L254.47,365.48 L256.37,365.51 L258.27,365.53 L260.18,365.55 L262.08,365.57 L263.98,365.59 L265.88,365.61 L267.78,365.62 L269.68,365.64 L271.58,365.65 L273.48,365.66 L275.38,365.67 L277.28,365.68 L279.18,365.69 L281.08,365.69 L282.98,365.70 L284.88,365.71 L286.78,365.71 L288.69,365.72 L290.59,365.72 L292.49,365.72 L294.39,365.73 L296.29,365.73 L298.19,365.73 L300.09,365.74 L301.99,365.74 L303.89,365.74 L305.79,365.74 L307.69,365.74 L309.59,365.74 L311.49,365.75 L313.39,365.75 L315.29,365.75 L317.20,365.75 L319.10,365.75 L321.00,365.75 L322.90,365.75 L324.80,365.75 L326.70,365.75 L328.60,365.75 L330.50,365.75" stroke="#7E2F8E" stroke-dasharray="6.9 7.3" stroke-linecap="butt"/>
</g>
<g font-family="Liberation Sans" font-size="14.0" fill="#262626" stroke="#262626" stroke-width="0.15"><text x="41.67" y="452.70" textLength="7.45" lengthAdjust="spacingAndGlyphs">0</text><text x="132.98" y="452.70" textLength="7.45" lengthAdjust="spacingAndGlyphs">5</text><text x="140.43" y="452.70" textLength="7.45" lengthAdjust="spacingAndGlyphs">0</text><polygon points="229.29,452.70 228.12,452.70 228.12,444.86 226.97,445.63 225.70,446.23 225.70,445.03 227.17,444.13 228.31,442.68 229.29,442.68"/><text x="231.74" y="452.70" textLength="7.45" lengthAdjust="spacingAndGlyphs">0</text><text x="239.19" y="452.70" textLength="7.45" lengthAdjust="spacingAndGlyphs">0</text><polygon points="324.32,452.70 323.16,452.70 323.16,444.86 322.00,445.63 320.73,446.23 320.73,445.03 322.21,444.13 323.34,442.68 324.32,442.68"/><text x="326.77" y="452.70" textLength="7.45" lengthAdjust="spacingAndGlyphs">5</text><text x="334.23" y="452.70" textLength="7.45" lengthAdjust="spacingAndGlyphs">0</text><text x="31.65" y="260.55" textLength="7.45" lengthAdjust="spacingAndGlyphs">0</text><text x="19.74" y="293.50" textLength="4.46" lengthAdjust="spacingAndGlyphs">-</text><polygon points="29.20,293.50 28.03,293.50 28.03,285.66 26.88,286.43 25.61,287.03 25.61,285.83 27.08,284.93 28.22,283.48 29.20,283.48"/><text x="31.65" y="293.50" textLength="7.45" lengthAdjust="spacingAndGlyphs">0</text><text x="19.74" y="326.45" textLength="4.46" lengthAdjust="spacingAndGlyphs">-</text><text x="24.20" y="326.45" textLength="7.45" lengthAdjust="spacingAndGlyphs">2</text><text x="31.65" y="326.45" textLength="7.45" lengthAdjust="spacingAndGlyphs">0</text><text x="19.74" y="359.40" textLength="4.46" lengthAdjust="spacingAndGlyphs">-</text><text x="24.20" y="359.40" textLength="7.45" lengthAdjust="spacingAndGlyphs">3</text><text x="31.65" y="359.40" textLength="7.45" lengthAdjust="spacingAndGlyphs">0</text><text x="19.74" y="392.35" textLength="4.46" lengthAdjust="spacingAndGlyphs">-</text><text x="24.20" y="392.35" textLength="7.45" lengthAdjust="spacingAndGlyphs">4</text><text x="31.65" y="392.35" textLength="7.45" lengthAdjust="spacingAndGlyphs">0</text><text x="19.74" y="425.30" textLength="4.46" lengthAdjust="spacingAndGlyphs">-</text><text x="24.20" y="425.30" textLength="7.45" lengthAdjust="spacingAndGlyphs">5</text><text x="31.65" y="425.30" textLength="7.45" lengthAdjust="spacingAndGlyphs">0</text></g>
<text x="179.30" y="242.60" textLength="17.30" lengthAdjust="spacingAndGlyphs" font-family="Liberation Sans" font-size="14.0" fill="#1a1a1a">(c)</text>
<text transform="translate(11.80,339.70) rotate(-90)" x="-32.35" y="0" textLength="64.70" lengthAdjust="spacingAndGlyphs" font-family="Liberation Sans" font-size="15.0" fill="#262626" stroke="#262626" stroke-width="0.15">MSD (dB)</text>
<text x="150.90" y="464.95" textLength="75.5" lengthAdjust="spacingAndGlyphs" font-family="Liberation Sans" font-size="15.0" fill="#262626" stroke="#262626" stroke-width="0.15">Block index</text>
<rect x="130.4" y="255.0" width="197.60" height="70.40" fill="#fff" stroke="#333" stroke-width="0.85"/>
<line x1="134.90" y1="265.30" x2="168.70" y2="265.30" stroke="#0072BD" stroke-width="2.6"/>
<text y="268.80" font-family="Liberation Serif" font-size="13.7" fill="#000"><tspan x="172.00" textLength="59.5" lengthAdjust="spacingAndGlyphs">Measured:</tspan></text>
<text y="268.80" font-family="Liberation Serif" font-size="13.7" fill="#000"><tspan x="238.30" textLength="71.2" lengthAdjust="spacingAndGlyphs">Constrained</tspan></text>
<line x1="134.90" y1="282.05" x2="168.70" y2="282.05" stroke="#D95319" stroke-width="2.6" stroke-dasharray="6.9 7.3"/>
<text y="285.55" font-family="Liberation Serif" font-size="13.7" fill="#000"><tspan x="172.00" textLength="45.0" lengthAdjust="spacingAndGlyphs">Theory:</tspan></text>
<text y="285.55" font-family="Liberation Serif" font-size="13.7" fill="#000"><tspan x="223.80" textLength="71.2" lengthAdjust="spacingAndGlyphs">Constrained</tspan></text>
<line x1="134.90" y1="298.80" x2="168.70" y2="298.80" stroke="#EDB120" stroke-width="2.6"/>
<text y="302.30" font-family="Liberation Serif" font-size="13.7" fill="#000"><tspan x="172.00" textLength="59.5" lengthAdjust="spacingAndGlyphs">Measured:</tspan></text>
<text y="302.30" font-family="Liberation Serif" font-size="13.7" fill="#000"><tspan x="238.30" textLength="85.2" lengthAdjust="spacingAndGlyphs">Unconstrained</tspan></text>
<line x1="134.90" y1="315.55" x2="168.70" y2="315.55" stroke="#7E2F8E" stroke-width="2.6" stroke-dasharray="6.9 7.3"/>
<text y="319.05" font-family="Liberation Serif" font-size="13.7" fill="#000"><tspan x="172.00" textLength="45.0" lengthAdjust="spacingAndGlyphs">Theory:</tspan></text>
<text y="319.05" font-family="Liberation Serif" font-size="13.7" fill="#000"><tspan x="223.80" textLength="85.2" lengthAdjust="spacingAndGlyphs">Unconstrained</tspan></text>
<g stroke="#DFDFDF" stroke-width="1"><line x1="478.83" y1="250.3" x2="478.83" y2="429.65"/><line x1="576.17" y1="250.3" x2="576.17" y2="429.65"/><line x1="381.5" y1="263.50" x2="673.5" y2="263.50"/><line x1="381.5" y1="293.36" x2="673.5" y2="293.36"/><line x1="381.5" y1="323.22" x2="673.5" y2="323.22"/><line x1="381.5" y1="353.08" x2="673.5" y2="353.08"/><line x1="381.5" y1="382.94" x2="673.5" y2="382.94"/><line x1="381.5" y1="412.80" x2="673.5" y2="412.80"/></g>
<path d="M381.50,429.65v-3.5M381.50,250.3v3.5M478.83,429.65v-3.5M478.83,250.3v3.5M576.17,429.65v-3.5M576.17,250.3v3.5M673.50,429.65v-3.5M673.50,250.3v3.5M381.5,263.50h3.5M673.5,263.50h-3.5M381.5,293.36h3.5M673.5,293.36h-3.5M381.5,323.22h3.5M673.5,323.22h-3.5M381.5,353.08h3.5M673.5,353.08h-3.5M381.5,382.94h3.5M673.5,382.94h-3.5M381.5,412.80h3.5M673.5,412.80h-3.5" stroke="#333" stroke-width="0.85" fill="none"/>
<rect x="381.5" y="250.3" width="292.00" height="179.35" fill="none" stroke="#333" stroke-width="0.85"/>
<clipPath id="cpd"><rect x="380.0" y="248.8" width="295.0" height="182.34999999999997"/></clipPath>
<g clip-path="url(#cpd)" fill="none" stroke-width="2.6" stroke-linejoin="round">
<path d="M383.45,255.96 L385.39,257.22 L387.34,258.76 L389.29,260.87 L391.23,263.26 L393.18,265.43 L395.13,267.02 L397.07,266.54 L399.02,269.22 L400.97,270.26 L402.91,272.80 L404.86,274.72 L406.81,276.01 L408.75,277.69 L410.70,279.57 L412.65,281.54 L414.59,283.21 L416.54,284.59 L418.49,285.26 L420.43,287.05 L422.38,288.67 L424.33,291.15 L426.27,291.59 L428.22,294.92 L430.17,295.35 L432.11,296.61 L434.06,298.98 L436.01,301.00 L437.95,301.44 L439.90,302.55 L441.85,303.77 L443.79,306.99 L445.74,309.51 L447.69,310.37 L449.63,312.17 L451.58,312.63 L453.53,314.44 L455.47,316.07 L457.42,318.05 L459.37,319.71 L461.31,319.71 L463.26,321.90 L465.21,322.80 L467.15,323.95 L469.10,323.72 L471.05,326.30 L472.99,328.82 L474.94,329.89 L476.89,331.53 L478.83,332.80 L480.78,335.83 L482.73,336.46 L484.67,338.62 L486.62,338.27 L488.57,340.48 L490.51,340.78 L492.46,342.11 L494.41,341.90 L496.35,343.08 L498.30,345.60 L500.25,344.87 L502.19,345.44 L504.14,345.68 L506.09,345.47 L508.03,347.55 L509.98,348.67 L511.93,348.19 L513.87,348.65 L515.82,351.18 L517.77,352.06 L519.71,352.74 L521.66,353.67 L523.61,353.30 L525.55,354.33 L527.50,353.97 L529.45,354.21 L531.39,355.73 L533.34,354.67 L535.29,355.74 L537.23,355.22 L539.18,355.81 L541.13,357.51 L543.07,358.70 L545.02,358.62 L546.97,358.20 L548.91,359.41 L550.86,360.29 L552.81,359.34 L554.75,359.19 L556.70,360.22 L558.65,360.18 L560.59,359.64 L562.54,359.49 L564.49,358.74 L566.43,359.46 L568.38,359.76 L570.33,360.72 L572.27,360.74 L574.22,359.33 L576.17,360.27 L578.11,361.07 L580.06,361.37 L582.01,360.55 L583.95,358.11 L585.90,358.70 L587.85,360.52 L589.79,359.91 L591.74,359.30 L593.69,360.99 L595.63,360.01 L597.58,359.92 L599.53,359.00 L601.47,358.74 L603.42,358.66 L605.37,358.92 L607.31,359.13 L609.26,358.22 L611.21,360.56 L613.15,360.13 L615.10,359.82 L617.05,360.38 L618.99,359.60 L620.94,359.02 L622.89,361.40 L624.83,360.49 L626.78,361.22 L628.73,361.28 L630.67,362.02 L632.62,360.65 L634.57,360.66 L636.51,358.93 L638.46,359.76 L640.41,359.32 L642.35,360.11 L644.30,361.50 L646.25,360.62 L648.19,360.48 L650.14,361.72 L652.09,361.10 L654.03,360.86 L655.98,361.73 L657.93,360.37 L659.87,361.30 L661.82,361.08 L663.77,360.33 L665.71,360.52 L667.66,361.26 L669.61,361.66 L671.55,361.61 L673.50,362.81" stroke="#0072BD" stroke-linecap="round"/>
<path d="M383.45,255.96 L385.39,257.58 L387.34,259.21 L389.29,260.83 L391.23,262.46 L393.18,264.08 L395.13,265.71 L397.07,267.33 L399.02,268.95 L400.97,270.58 L402.91,272.20 L404.86,273.82 L406.81,275.45 L408.75,277.07 L410.70,278.69 L412.65,280.31 L414.59,281.93 L416.54,283.55 L418.49,285.17 L420.43,286.78 L422.38,288.40 L424.33,290.01 L426.27,291.63 L428.22,293.24 L430.17,294.85 L432.11,296.46 L434.06,298.06 L436.01,299.67 L437.95,301.27 L439.90,302.86 L441.85,304.46 L443.79,306.05 L445.74,307.63 L447.69,309.22 L449.63,310.79 L451.58,312.36 L453.53,313.92 L455.47,315.48 L457.42,317.03 L459.37,318.57 L461.31,320.10 L463.26,321.62 L465.21,323.12 L467.15,324.61 L469.10,326.09 L471.05,327.55 L472.99,329.00 L474.94,330.42 L476.89,331.82 L478.83,333.20 L480.78,334.56 L482.73,335.89 L484.67,337.18 L486.62,338.45 L488.57,339.69 L490.51,340.88 L492.46,342.05 L494.41,343.17 L496.35,344.25 L498.30,345.29 L500.25,346.29 L502.19,347.24 L504.14,348.15 L506.09,349.01 L508.03,349.82 L509.98,350.59 L511.93,351.32 L513.87,352.00 L515.82,352.63 L517.77,353.23 L519.71,353.78 L521.66,354.30 L523.61,354.77 L525.55,355.22 L527.50,355.63 L529.45,356.00 L531.39,356.35 L533.34,356.67 L535.29,356.97 L537.23,357.24 L539.18,357.49 L541.13,357.72 L543.07,357.93 L545.02,358.13 L546.97,358.31 L548.91,358.48 L550.86,358.63 L552.81,358.78 L554.75,358.91 L556.70,359.03 L558.65,359.14 L560.59,359.25 L562.54,359.35 L564.49,359.44 L566.43,359.53 L568.38,359.61 L570.33,359.68 L572.27,359.75 L574.22,359.82 L576.17,359.88 L578.11,359.94 L580.06,360.00 L582.01,360.05 L583.95,360.11 L585.90,360.15 L587.85,360.20 L589.79,360.24 L591.74,360.29 L593.69,360.33 L595.63,360.37 L597.58,360.40 L599.53,360.44 L601.47,360.47 L603.42,360.51 L605.37,360.54 L607.31,360.57 L609.26,360.60 L611.21,360.63 L613.15,360.65 L615.10,360.68 L617.05,360.70 L618.99,360.73 L620.94,360.75 L622.89,360.78 L624.83,360.80 L626.78,360.82 L628.73,360.84 L630.67,360.86 L632.62,360.88 L634.57,360.90 L636.51,360.92 L638.46,360.94 L640.41,360.95 L642.35,360.97 L644.30,360.99 L646.25,361.00 L648.19,361.02 L650.14,361.03 L652.09,361.05 L654.03,361.06 L655.98,361.07 L657.93,361.09 L659.87,361.10 L661.82,361.11 L663.77,361.12 L665.71,361.14 L667.66,361.15 L669.61,361.16 L671.55,361.17 L673.50,361.18" stroke="#D95319" stroke-dasharray="6.9 7.3" stroke-linecap="butt"/>
<path d="M383.45,256.01 L385.39,257.63 L387.34,258.72 L389.29,259.11 L391.23,260.89 L393.18,261.65 L395.13,264.09 L397.07,265.50 L399.02,268.07 L400.97,271.50 L402.91,271.31 L404.86,273.24 L406.81,274.53 L408.75,274.74 L410.70,276.82 L412.65,277.87 L414.59,281.78 L416.54,282.99 L418.49,283.50 L420.43,283.67 L422.38,286.65 L424.33,291.25 L426.27,294.42 L428.22,294.26 L430.17,294.73 L432.11,293.18 L434.06,294.56 L436.01,297.04 L437.95,300.09 L439.90,300.66 L441.85,304.28 L443.79,306.48 L445.74,306.82 L447.69,308.48 L449.63,310.72 L451.58,310.88 L453.53,311.15 L455.47,318.00 L457.42,319.01 L459.37,320.03 L461.31,323.41 L463.26,323.14 L465.21,323.71 L467.15,324.04 L469.10,322.80 L471.05,324.46 L472.99,329.65 L474.94,332.61 L476.89,333.52 L478.83,336.01 L480.78,336.18 L482.73,336.40 L484.67,336.44 L486.62,336.66 L488.57,339.03 L490.51,340.59 L492.46,344.37 L494.41,343.72 L496.35,345.73 L498.30,345.83 L500.25,347.61 L502.19,349.35 L504.14,351.25 L506.09,350.97 L508.03,353.44 L509.98,355.10 L511.93,356.38 L513.87,355.74 L515.82,357.44 L517.77,358.17 L519.71,361.96 L521.66,365.42 L523.61,368.42 L525.55,366.53 L527.50,366.59 L529.45,371.60 L531.39,370.41 L533.34,372.31 L535.29,372.12 L537.23,375.62 L539.18,379.25 L541.13,378.58 L543.07,378.41 L545.02,381.12 L546.97,385.32 L548.91,388.72 L550.86,389.28 L552.81,390.16 L554.75,388.03 L556.70,392.36 L558.65,393.63 L560.59,396.25 L562.54,394.03 L564.49,394.61 L566.43,398.22 L568.38,400.11 L570.33,402.97 L572.27,402.45 L574.22,403.91 L576.17,405.65 L578.11,407.82 L580.06,407.89 L582.01,409.87 L583.95,406.97 L585.90,405.68 L587.85,406.45 L589.79,411.09 L591.74,412.14 L593.69,414.78 L595.63,413.70 L597.58,416.45 L599.53,415.53 L601.47,413.93 L603.42,414.08 L605.37,417.77 L607.31,418.73 L609.26,419.31 L611.21,419.00 L613.15,419.28 L615.10,417.77 L617.05,418.06 L618.99,417.25 L620.94,419.92 L622.89,420.27 L624.83,420.81 L626.78,423.00 L628.73,423.59 L630.67,421.49 L632.62,423.09 L634.57,421.28 L636.51,423.08 L638.46,424.84 L640.41,423.14 L642.35,423.55 L644.30,422.77 L646.25,422.79 L648.19,423.15 L650.14,423.78 L652.09,422.12 L654.03,424.66 L655.98,423.27 L657.93,425.65 L659.87,427.17 L661.82,425.10 L663.77,422.65 L665.71,422.53 L667.66,422.98 L669.61,424.29 L671.55,426.22 L673.50,424.71" stroke="#EDB120" stroke-linecap="round"/>
<path d="M383.45,256.01 L385.39,257.63 L387.34,259.24 L389.29,260.85 L391.23,262.46 L393.18,264.07 L395.13,265.68 L397.07,267.29 L399.02,268.90 L400.97,270.51 L402.91,272.12 L404.86,273.72 L406.81,275.33 L408.75,276.94 L410.70,278.55 L412.65,280.15 L414.59,281.76 L416.54,283.36 L418.49,284.97 L420.43,286.57 L422.38,288.17 L424.33,289.77 L426.27,291.38 L428.22,292.98 L430.17,294.58 L432.11,296.18 L434.06,297.78 L436.01,299.37 L437.95,300.97 L439.90,302.57 L441.85,304.16 L443.79,305.76 L445.74,307.35 L447.69,308.94 L449.63,310.53 L451.58,312.12 L453.53,313.71 L455.47,315.30 L457.42,316.89 L459.37,318.47 L461.31,320.06 L463.26,321.64 L465.21,323.22 L467.15,324.80 L469.10,326.38 L471.05,327.96 L472.99,329.53 L474.94,331.11 L476.89,332.68 L478.83,334.25 L480.78,335.82 L482.73,337.39 L484.67,338.95 L486.62,340.51 L488.57,342.07 L490.51,343.63 L492.46,345.19 L494.41,346.74 L496.35,348.29 L498.30,349.84 L500.25,351.39 L502.19,352.93 L504.14,354.47 L506.09,356.01 L508.03,357.54 L509.98,359.07 L511.93,360.60 L513.87,362.12 L515.82,363.64 L517.77,365.16 L519.71,366.67 L521.66,368.17 L523.61,369.67 L525.55,371.17 L527.50,372.66 L529.45,374.14 L531.39,375.62 L533.34,377.09 L535.29,378.55 L537.23,380.00 L539.18,381.45 L541.13,382.89 L543.07,384.31 L545.02,385.73 L546.97,387.14 L548.91,388.53 L550.86,389.91 L552.81,391.28 L554.75,392.63 L556.70,393.96 L558.65,395.28 L560.59,396.58 L562.54,397.86 L564.49,399.12 L566.43,400.35 L568.38,401.56 L570.33,402.75 L572.27,403.91 L574.22,405.04 L576.17,406.14 L578.11,407.21 L580.06,408.25 L582.01,409.25 L583.95,410.22 L585.90,411.15 L587.85,412.05 L589.79,412.90 L591.74,413.72 L593.69,414.50 L595.63,415.25 L597.58,415.95 L599.53,416.61 L601.47,417.24 L603.42,417.83 L605.37,418.38 L607.31,418.90 L609.26,419.38 L611.21,419.83 L613.15,420.25 L615.10,420.63 L617.05,420.99 L618.99,421.32 L620.94,421.63 L622.89,421.91 L624.83,422.17 L626.78,422.41 L628.73,422.62 L630.67,422.82 L632.62,423.01 L634.57,423.17 L636.51,423.33 L638.46,423.47 L640.41,423.59 L642.35,423.71 L644.30,423.81 L646.25,423.91 L648.19,424.00 L650.14,424.08 L652.09,424.15 L654.03,424.21 L655.98,424.27 L657.93,424.33 L659.87,424.38 L661.82,424.42 L663.77,424.46 L665.71,424.50 L667.66,424.54 L669.61,424.57 L671.55,424.59 L673.50,424.62" stroke="#7E2F8E" stroke-dasharray="6.9 7.3" stroke-linecap="butt"/>
</g>
<g font-family="Liberation Sans" font-size="14.0" fill="#262626" stroke="#262626" stroke-width="0.15"><text x="377.77" y="450.05" textLength="7.45" lengthAdjust="spacingAndGlyphs">0</text><text x="471.38" y="450.05" textLength="7.45" lengthAdjust="spacingAndGlyphs">5</text><text x="478.83" y="450.05" textLength="7.45" lengthAdjust="spacingAndGlyphs">0</text><polygon points="569.99,450.05 568.82,450.05 568.82,442.21 567.67,442.98 566.40,443.58 566.40,442.38 567.87,441.48 569.01,440.03 569.99,440.03"/><text x="572.44" y="450.05" textLength="7.45" lengthAdjust="spacingAndGlyphs">0</text><text x="579.89" y="450.05" textLength="7.45" lengthAdjust="spacingAndGlyphs">0</text><polygon points="667.32,450.05 666.16,450.05 666.16,442.21 665.00,442.98 663.73,443.58 663.73,442.38 665.21,441.48 666.34,440.03 667.32,440.03"/><text x="669.77" y="450.05" textLength="7.45" lengthAdjust="spacingAndGlyphs">5</text><text x="677.23" y="450.05" textLength="7.45" lengthAdjust="spacingAndGlyphs">0</text><text x="367.75" y="269.30" textLength="7.45" lengthAdjust="spacingAndGlyphs">0</text><text x="355.84" y="299.16" textLength="4.46" lengthAdjust="spacingAndGlyphs">-</text><polygon points="365.30,299.16 364.13,299.16 364.13,291.32 362.98,292.09 361.71,292.69 361.71,291.49 363.18,290.59 364.32,289.14 365.30,289.14"/><text x="367.75" y="299.16" textLength="7.45" lengthAdjust="spacingAndGlyphs">0</text><text x="355.84" y="329.02" textLength="4.46" lengthAdjust="spacingAndGlyphs">-</text><text x="360.30" y="329.02" textLength="7.45" lengthAdjust="spacingAndGlyphs">2</text><text x="367.75" y="329.02" textLength="7.45" lengthAdjust="spacingAndGlyphs">0</text><text x="355.84" y="358.88" textLength="4.46" lengthAdjust="spacingAndGlyphs">-</text><text x="360.30" y="358.88" textLength="7.45" lengthAdjust="spacingAndGlyphs">3</text><text x="367.75" y="358.88" textLength="7.45" lengthAdjust="spacingAndGlyphs">0</text><text x="355.84" y="388.74" textLength="4.46" lengthAdjust="spacingAndGlyphs">-</text><text x="360.30" y="388.74" textLength="7.45" lengthAdjust="spacingAndGlyphs">4</text><text x="367.75" y="388.74" textLength="7.45" lengthAdjust="spacingAndGlyphs">0</text><text x="355.84" y="418.60" textLength="4.46" lengthAdjust="spacingAndGlyphs">-</text><text x="360.30" y="418.60" textLength="7.45" lengthAdjust="spacingAndGlyphs">5</text><text x="367.75" y="418.60" textLength="7.45" lengthAdjust="spacingAndGlyphs">0</text></g>
<text x="518.43" y="244.40" textLength="18.13" lengthAdjust="spacingAndGlyphs" font-family="Liberation Sans" font-size="14.0" fill="#1a1a1a">(d)</text>
<text transform="translate(349.20,339.00) rotate(-90)" x="-37.50" y="0" textLength="75.00" lengthAdjust="spacingAndGlyphs" font-family="Liberation Sans" font-size="15.0" fill="#262626" stroke="#262626" stroke-width="0.15">EMSE (dB)</text>
<text x="490.45" y="462.30" textLength="75.5" lengthAdjust="spacingAndGlyphs" font-family="Liberation Sans" font-size="15.0" fill="#262626" stroke="#262626" stroke-width="0.15">Block index</text>
<rect x="475.0" y="261.9" width="198.50" height="70.40" fill="#fff" stroke="#333" stroke-width="0.85"/>
<line x1="479.50" y1="272.20" x2="513.30" y2="272.20" stroke="#0072BD" stroke-width="2.6"/>
<text y="275.70" font-family="Liberation Serif" font-size="13.7" fill="#000"><tspan x="516.60" textLength="59.5" lengthAdjust="spacingAndGlyphs">Measured:</tspan></text>
<text y="275.70" font-family="Liberation Serif" font-size="13.7" fill="#000"><tspan x="582.90" textLength="71.2" lengthAdjust="spacingAndGlyphs">Constrained</tspan></text>
<line x1="479.50" y1="288.95" x2="513.30" y2="288.95" stroke="#D95319" stroke-width="2.6" stroke-dasharray="6.9 7.3"/>
<text y="292.45" font-family="Liberation Serif" font-size="13.7" fill="#000"><tspan x="516.60" textLength="45.0" lengthAdjust="spacingAndGlyphs">Theory:</tspan></text>
<text y="292.45" font-family="Liberation Serif" font-size="13.7" fill="#000"><tspan x="568.40" textLength="71.2" lengthAdjust="spacingAndGlyphs">Constrained</tspan></text>
<line x1="479.50" y1="305.70" x2="513.30" y2="305.70" stroke="#EDB120" stroke-width="2.6"/>
<text y="309.20" font-family="Liberation Serif" font-size="13.7" fill="#000"><tspan x="516.60" textLength="59.5" lengthAdjust="spacingAndGlyphs">Measured:</tspan></text>
<text y="309.20" font-family="Liberation Serif" font-size="13.7" fill="#000"><tspan x="582.90" textLength="85.2" lengthAdjust="spacingAndGlyphs">Unconstrained</tspan></text>
<line x1="479.50" y1="322.45" x2="513.30" y2="322.45" stroke="#7E2F8E" stroke-width="2.6" stroke-dasharray="6.9 7.3"/>
<text y="325.95" font-family="Liberation Serif" font-size="13.7" fill="#000"><tspan x="516.60" textLength="45.0" lengthAdjust="spacingAndGlyphs">Theory:</tspan></text>
<text y="325.95" font-family="Liberation Serif" font-size="13.7" fill="#000"><tspan x="568.40" textLength="85.2" lengthAdjust="spacingAndGlyphs">Unconstrained</tspan></text>
</svg></body></html>
